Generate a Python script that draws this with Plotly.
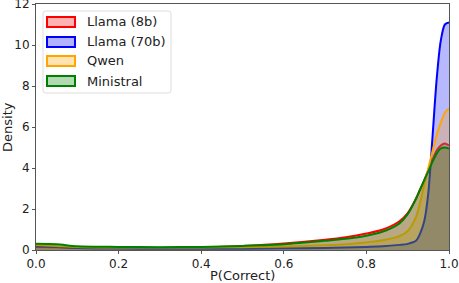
import plotly.graph_objects as go

x_grid = [0.0, 0.05, 0.1, 0.2, 0.3, 0.4, 0.5, 0.6, 0.7, 0.75, 0.8, 0.84, 0.88, 0.9, 0.92, 0.93, 0.94, 0.95, 0.96, 0.97, 0.98, 0.99, 1.0]

llama8b = [0.15, 0.13, 0.10, 0.10, 0.10, 0.13, 0.20, 0.32, 0.50, 0.62, 0.80, 1.00, 1.40, 1.80, 2.50, 2.95, 3.40, 3.90, 4.40, 4.85, 5.10, 5.20, 5.10]
llama70b = [0.20, 0.15, 0.10, 0.07, 0.06, 0.06, 0.06, 0.08, 0.10, 0.12, 0.15, 0.18, 0.25, 0.30, 0.45, 0.80, 1.40, 2.80, 5.50, 8.30, 10.20, 11.00, 11.10]
qwen = [0.25, 0.20, 0.15, 0.12, 0.12, 0.12, 0.14, 0.17, 0.23, 0.28, 0.38, 0.48, 0.68, 0.92, 1.60, 2.30, 3.20, 4.00, 4.80, 5.60, 6.20, 6.70, 6.90]
ministral = [0.30, 0.28, 0.18, 0.15, 0.14, 0.15, 0.20, 0.28, 0.45, 0.55, 0.70, 0.90, 1.30, 1.75, 2.50, 2.95, 3.40, 3.85, 4.30, 4.70, 4.95, 5.00, 4.95]

names = ["Llama (8b)", "Llama (70b)", "Qwen", "Ministral"]
line_colors = ["red", "blue", "orange", "green"]
fill_colors = ["rgba(255,0,0,0.28)", "rgba(0,0,255,0.28)", "rgba(255,165,0,0.28)", "rgba(0,128,0,0.28)"]
values = [llama8b, llama70b, qwen, ministral]

# plot area in pixels
L, R, T, B = 36, 449, 4, 250
W, H = R - L, B - T
def px(xp):
    return (xp - L) / W
def py(yp):
    return (B - yp) / H

fig = go.Figure()
for name, ys, lc, fc in zip(names, values, line_colors, fill_colors):
    fig.add_trace(go.Scatter(
        x=x_grid, y=ys, name=name, mode="lines",
        line=dict(color=lc, width=2, shape="spline", smoothing=0.8),
        fill="tozeroy", fillcolor=fc, showlegend=False,
    ))

shapes = []
annotations = []
# legend frame (rounded)
x0, x1, y0, y1, r = 43, 171, 11, 93, 3
path = (f"M {px(x0+r)},{py(y0)} L {px(x1-r)},{py(y0)} Q {px(x1)},{py(y0)} {px(x1)},{py(y0+r)} "
        f"L {px(x1)},{py(y1-r)} Q {px(x1)},{py(y1)} {px(x1-r)},{py(y1)} "
        f"L {px(x0+r)},{py(y1)} Q {px(x0)},{py(y1)} {px(x0)},{py(y1-r)} "
        f"L {px(x0)},{py(y0+r)} Q {px(x0)},{py(y0)} {px(x0+r)},{py(y0)} Z")
shapes.append(dict(type="path", xref="paper", yref="paper", path=path,
                   fillcolor="rgba(255,255,255,0.8)", line=dict(color="#dddddd", width=1), layer="above"))
row_y = [22, 42, 61, 81]
for name, lc, fc, ry in zip(names, line_colors, fill_colors, row_y):
    shapes.append(dict(type="rect", xref="paper", yref="paper",
                       x0=px(47), x1=px(75), y0=py(ry + 5), y1=py(ry - 5),
                       fillcolor=fc.replace("0.28", "0.3"), line=dict(color=lc, width=2), layer="above"))
    annotations.append(dict(text=name, xref="paper", yref="paper", x=px(85), y=py(ry),
                            xanchor="left", yanchor="middle", showarrow=False,
                            font=dict(family="DejaVu Sans", size=13, color="#222222")))

annotations.append(dict(text="P(Correct)", xref="paper", yref="paper", x=0.5, y=py(275),
                        xanchor="center", yanchor="middle", showarrow=False,
                        font=dict(family="DejaVu Sans", size=13, color="#222222")))
annotations.append(dict(text="Density", xref="paper", yref="paper", x=px(7), y=0.5,
                        xanchor="center", yanchor="middle", showarrow=False, textangle=-90,
                        font=dict(family="DejaVu Sans", size=13, color="#222222")))

axis_common = dict(
    showgrid=False, zeroline=False, showline=True, mirror=True, automargin=False,
    linecolor="#555555", linewidth=1, ticks="outside", ticklen=3,
    tickcolor="#555555", tickfont=dict(family="DejaVu Sans", size=12, color="#222222"),
    ticklabeloverflow="allow",
)

fig.update_layout(
    width=459, height=283,
    margin=dict(l=L, r=459 - R, t=T, b=283 - B, autoexpand=False),
    paper_bgcolor="white", plot_bgcolor="white",
    font=dict(family="DejaVu Sans", size=12, color="#222222"),
    showlegend=False,
    shapes=shapes,
    annotations=annotations,
)
fig.update_xaxes(range=[0, 1], tickvals=[0, 0.2, 0.4, 0.6, 0.8, 1.0],
                 ticktext=["0.0", "0.2", "0.4", "0.6", "0.8", "1.0"], **axis_common)
fig.update_yaxes(range=[0, 12], tickvals=[0, 2, 4, 6, 8, 10, 12], **axis_common)

fig.write_html("out.html", config={"displayModeBar": False},
               post_script="document.body.style.margin='0';document.body.style.overflow='hidden';")
